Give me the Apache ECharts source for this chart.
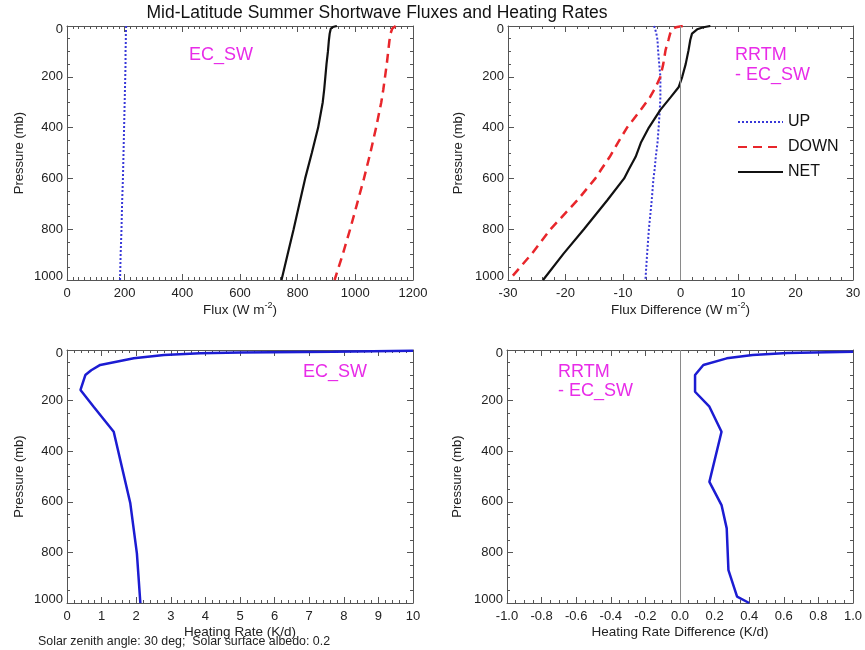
<!DOCTYPE html>
<html><head><meta charset="utf-8">
<script src="https://cdn.jsdelivr.net/npm/echarts@6/dist/echarts.min.js"></script>
<style>html,body{margin:0;padding:0;background:#fff}#c{width:865px;height:650px}</style>
</head><body><div id="c"></div>
<script>
// ---------- data ----------
const pressureTicks = [0, 200, 400, 600, 800, 1000];

// Top-left: fluxes (W m-2)
const fluxP    = [0, 4, 10, 30, 60, 100, 150, 200, 250, 300, 400, 500, 600, 700, 800, 900, 1000];
const fluxUp   = [205, 205, 205, 204, 204, 203, 203, 202, 201, 200, 198, 196, 194, 191, 189, 186, 184];
const fluxDown = [1140, 1134, 1128, 1122, 1118, 1114, 1109, 1103, 1097, 1090, 1072, 1052, 1030, 1006, 982, 956, 928];
const fluxNet  = [936, 922, 915, 911, 908, 905, 900, 896, 892, 887, 871, 849, 826, 806, 786, 765, 744];

// Top-right: flux differences RRTM - EC_SW (W m-2)
const diffP    = [0, 5, 13, 30, 55, 95, 150, 200, 240, 280, 330, 400, 460, 515, 565, 600, 685, 800, 895, 1000];
const diffUp   = [-4.6, -4.5, -4.4, -4.2, -4.0, -3.9, -3.7, -3.5, -3.5, -3.5, -3.6, -3.8, -4.0, -4.3, -4.5, -4.7, -5.0, -5.5, -5.8, -6.1];
const diffDown = [0.4, -0.8, -1.5, -1.8, -2.1, -2.6, -3.0, -3.5, -4.3, -5.3, -6.9, -9.3, -10.9, -12.3, -13.8, -14.8, -17.9, -22.6, -25.8, -29.8];
const diffNet  = [5.2, 4.0, 2.9, 2.0, 1.7, 1.4, 0.9, 0.3, -0.3, -1.7, -3.5, -5.5, -6.9, -7.8, -9.0, -9.8, -12.7, -16.8, -20.3, -23.9];

// Bottom-left: heating rate (K/d)
const hrP   = [2.5, 6.5, 10, 13, 20, 33, 59, 80, 99, 158, 224, 323, 606, 804, 1000];
const hrVal = [10, 7.7, 5.0, 3.85, 2.8, 1.93, 0.96, 0.7, 0.53, 0.39, 0.77, 1.35, 1.83, 2.02, 2.12];

// Bottom-right: heating rate difference (K/d)
const hrdP   = [7, 12, 20, 33, 59, 99, 165, 224, 323, 521, 613, 705, 870, 975, 1000];
const hrdVal = [1.0, 0.62, 0.42, 0.27, 0.135, 0.087, 0.087, 0.17, 0.24, 0.17, 0.24, 0.27, 0.28, 0.33, 0.4];

const zeroLine = [0];

// ---------- styling ----------
const FONT = '"Liberation Sans", Arial, Helvetica, sans-serif';
const AX = '#555';
const TXT = '#222';
const PINK = '#e82ce8';

function pairs(vals, ps) { return vals.map((v, i) => [v, ps[i]]); }

const grids = [
  {left: 67,  top: 26,  width: 346, height: 254},
  {left: 508, top: 26,  width: 345, height: 254},
  {left: 67,  top: 350, width: 346, height: 253},
  {left: 507, top: 350, width: 346, height: 253}
].map(g => Object.assign({show: false, containLabel: false, outerBoundsMode: 'none'}, g));

const xSpecs = [
  {min: 0, max: 1200, interval: 200, minor: 10, name: '{n|Flux (W m}{sup|-2}{n|)}', fmt: v => String(v)},
  {min: -30, max: 30, interval: 10, minor: 5, name: '{n|Flux Difference (W m}{sup|-2}{n|)}', fmt: v => String(v)},
  {min: 0, max: 10, interval: 1, minor: 5, name: '{n|Heating Rate (K/d)}', fmt: v => String(v)},
  {min: -1, max: 1, interval: 0.2, minor: 4, name: '{n|Heating Rate Difference (K/d)}', fmt: v => v.toFixed(1)}
];

const xAxes = [], yAxes = [];
xSpecs.forEach((s, gi) => {
  const common = {
    type: 'value', gridIndex: gi, min: s.min, max: s.max, interval: s.interval,
    axisLine: {show: true, onZero: false, lineStyle: {color: AX, width: 1}},
    axisTick: {show: true, inside: true, length: 6, lineStyle: {color: AX}},
    minorTick: {show: true, splitNumber: s.minor, length: 3, lineStyle: {color: AX}},
    splitLine: {show: false}, minorSplitLine: {show: false}
  };
  xAxes.push(Object.assign({}, common, {
    position: 'bottom',
    axisLabel: {show: true, margin: 7, fontSize: 13, color: TXT, fontFamily: FONT, formatter: s.fmt},
    name: s.name, nameLocation: 'middle', nameGap: 20,
    nameTextStyle: {color: TXT, fontFamily: FONT, rich: {
      n: {fontSize: 13.5, lineHeight: 16, verticalAlign: 'bottom', color: TXT, fontFamily: FONT},
      sup: {fontSize: 9, lineHeight: 9, verticalAlign: 'top', color: TXT, fontFamily: FONT}
    }}
  }));
  xAxes.push(Object.assign({}, common, {position: 'top', axisLabel: {show: false}}));

  const ycommon = {
    type: 'value', gridIndex: gi, min: 0, max: 1000, interval: 200, inverse: true,
    axisLine: {show: true, onZero: false, lineStyle: {color: AX, width: 1}},
    axisTick: {show: true, inside: true, length: 6, lineStyle: {color: AX}},
    minorTick: {show: true, splitNumber: 4, length: 3, lineStyle: {color: AX}},
    splitLine: {show: false}, minorSplitLine: {show: false}
  };
  yAxes.push(Object.assign({}, ycommon, {
    position: 'left',
    axisLabel: {show: true, margin: 4, fontSize: 13, color: TXT, fontFamily: FONT,
      formatter: v => {
        if (!pressureTicks.includes(v)) return '';
        if (v === pressureTicks[0]) return '{lo|' + v + '}';
        if (v === pressureTicks[pressureTicks.length - 1]) return '{hi|' + v + '}';
        return String(v);
      },
      rich: {
        lo: {fontSize: 13, color: TXT, fontFamily: FONT, padding: [7, 0, 0, 0]},
        hi: {fontSize: 13, color: TXT, fontFamily: FONT, padding: [0, 0, 7, 0]}
      }
    },
    name: 'Pressure (mb)', nameLocation: 'middle', nameRotate: 90, nameGap: gi % 2 === 0 ? 41 : 43,
    nameTextStyle: {fontSize: 13, color: TXT, fontFamily: FONT}
  }));
  yAxes.push(Object.assign({}, ycommon, {position: 'right', axisLabel: {show: false}}));
});

const upStyle   = {color: '#3838d8', width: 2, type: [2, 2]};
const downStyle = {color: '#e8262b', width: 2.5, type: [9, 6]};
const netStyle  = {color: '#111111', width: 2.2, type: 'solid'};
const hrStyle   = {color: '#1c1cd2', width: 2.5, type: 'solid'};

function lineSeries(name, gi, data, style, extra) {
  return Object.assign({
    type: 'line', name, xAxisIndex: gi * 2, yAxisIndex: gi * 2, data,
    symbol: 'none', showSymbol: false, smooth: false, clip: true,
    lineStyle: style, itemStyle: {color: style.color}, emphasis: {disabled: true}
  }, extra || {});
}

const zeroMark = {
  silent: true, symbol: ['none', 'none'], label: {show: false}, animation: false,
  lineStyle: {color: '#8a8a8a', width: 1, type: 'solid'},
  emphasis: {disabled: true},
  data: zeroLine.map(v => ({xAxis: v}))
};

const series = [
  lineSeries('UP', 0, pairs(fluxUp, fluxP), upStyle),
  lineSeries('DOWN', 0, pairs(fluxDown, fluxP), downStyle),
  lineSeries('NET', 0, pairs(fluxNet, fluxP), netStyle),
  lineSeries('UP', 1, pairs(diffUp, diffP), upStyle, {markLine: zeroMark}),
  lineSeries('DOWN', 1, pairs(diffDown, diffP), downStyle),
  lineSeries('NET', 1, pairs(diffNet, diffP), netStyle),
  lineSeries('Heating Rate', 2, pairs(hrVal, hrP), hrStyle),
  lineSeries('Heating Rate Difference', 3, pairs(hrdVal, hrdP), hrStyle, {markLine: zeroMark})
];

function txt(x, y, text, size, fill, align) {
  return {type: 'text', x, y, silent: true,
    style: {text, fontSize: size, fontFamily: FONT, fill, align: align || 'left', verticalAlign: 'middle'}};
}

const option = {
  animation: false,
  backgroundColor: '#ffffff',
  grid: grids,
  xAxis: xAxes,
  yAxis: yAxes,
  legend: {
    data: ['UP', 'DOWN', 'NET'], orient: 'vertical', left: 737, top: 114, padding: 0,
    itemWidth: 45, itemHeight: 16, itemGap: 9, selectedMode: false,
    itemStyle: {color: 'rgba(0,0,0,0)', borderColor: 'rgba(0,0,0,0)', borderWidth: 0, opacity: 0},
    textStyle: {fontSize: 16, lineHeight: 16, color: '#111', fontFamily: FONT}
  },
  graphic: [
    txt(377, 13.5, 'Mid-Latitude Summer Shortwave Fluxes and Heating Rates', 17.5, '#111', 'center'),
    txt(189, 55, 'EC_SW', 18, PINK),
    txt(735, 55, 'RRTM', 18, PINK),
    txt(735, 75, '- EC_SW', 18, PINK),
    txt(303, 372, 'EC_SW', 18, PINK),
    txt(558, 372, 'RRTM', 18, PINK),
    txt(558, 391, '- EC_SW', 18, PINK),
    txt(38, 642, 'Solar zenith angle: 30 deg;  Solar surface albedo: 0.2', 12.4, TXT)
  ],
  series
};

const chart = echarts.init(document.getElementById('c'), null, {renderer: 'canvas'});
chart.setOption(option);
</script>
</body></html>
